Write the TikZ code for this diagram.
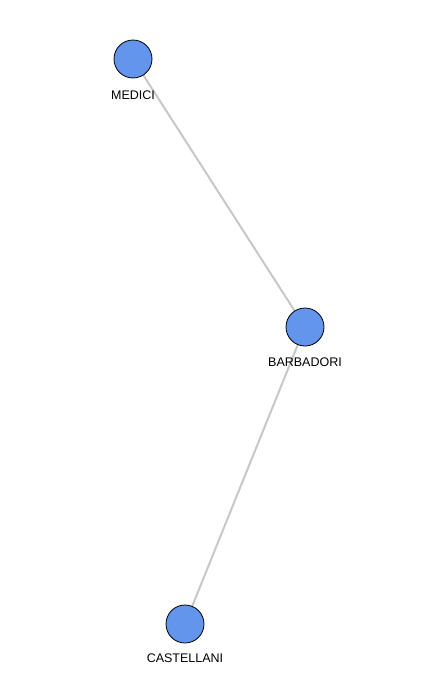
\documentclass[tikz,border=0pt]{standalone}
\usepackage{fontspec}
\setmainfont{Liberation Sans}
\begin{document}
\begin{tikzpicture}[x=1pt,y=-1pt,
  vert/.style={circle,draw=black,line width=0.8pt,fill=nodeblue,minimum size=38pt,inner sep=0pt},
  lab/.style={font=\fontsize{12.5}{14}\selectfont,text=black,inner sep=0pt},
  edge/.style={draw=edgegrey,line width=2pt}]
\definecolor{nodeblue}{HTML}{6495ED}
\definecolor{edgegrey}{HTML}{C8C8C8}
\useasboundingbox[fill=white] (0,0) rectangle (422,688);
\coordinate (pm) at (133,59);
\coordinate (pb) at (305,327);
\coordinate (pc) at (185,624);
\draw[edge] (pm) -- (pb);
\draw[edge] (pb) -- (pc);
\node[vert] (medici) at (pm) {};
\node[vert] (barbadori) at (pb) {};
\node[vert] (castellani) at (pc) {};
\node[lab] (lm) at (133,95) {MEDICI};
\node[lab] (lb) at (305,362) {BARBADORI};
\node[lab] (lc) at (185,658) {CASTELLANI};
\end{tikzpicture}
\end{document}
